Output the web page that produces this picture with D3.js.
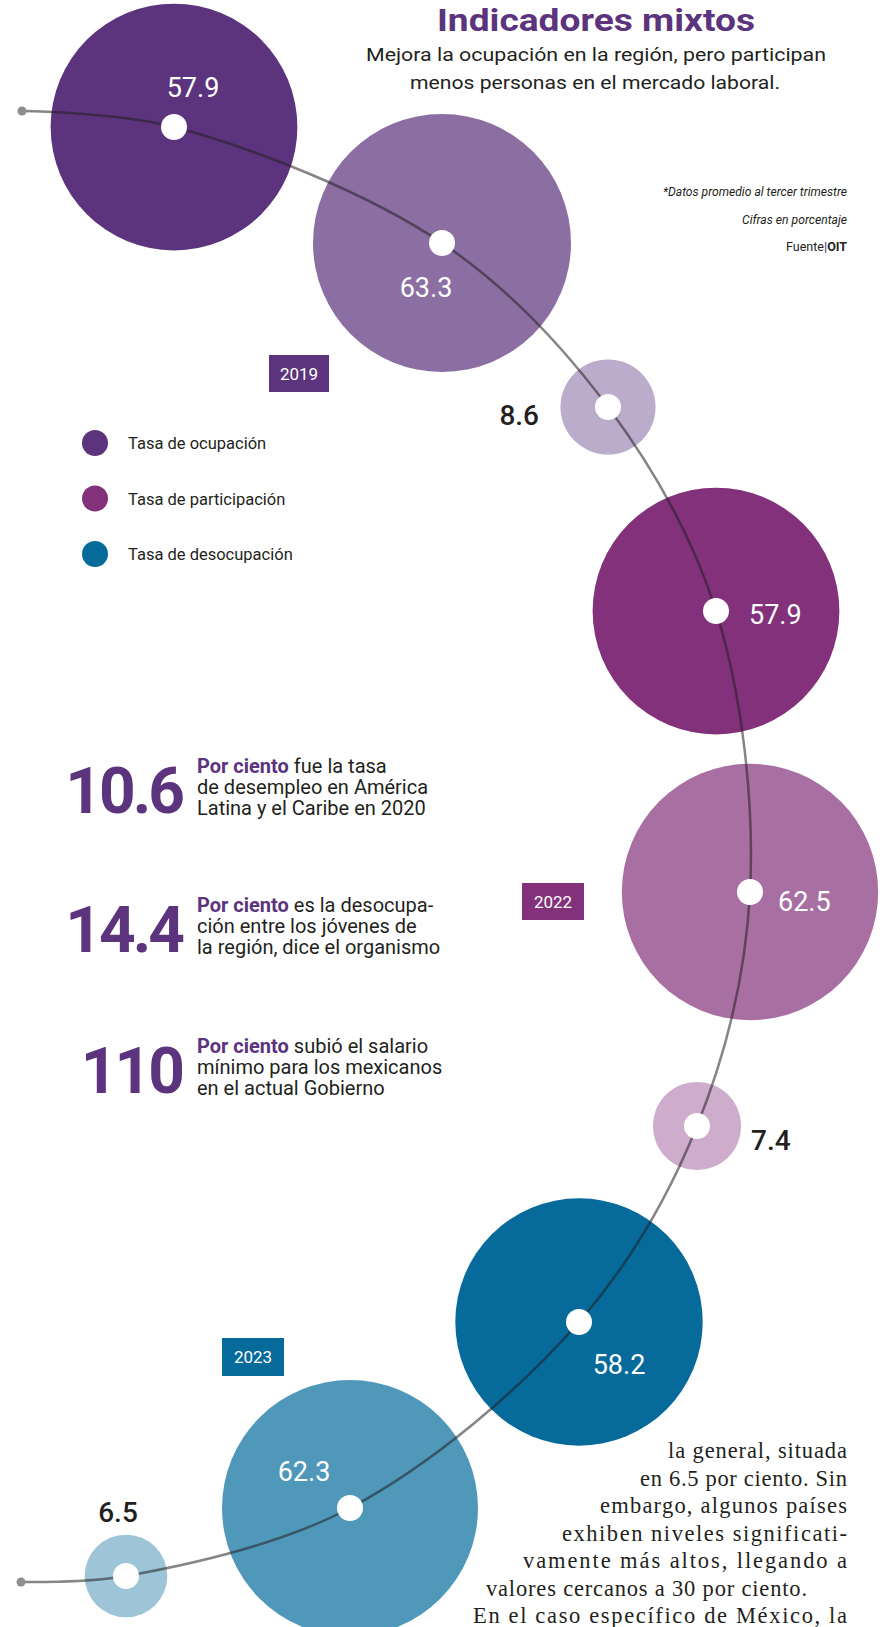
<!DOCTYPE html>
<html lang="es">
<head>
<meta charset="UTF-8">
<title>Indicadores mixtos</title>
<script src="https://d3js.org/d3.v7.min.js"></script>
<style>
  body { margin: 0; padding: 0; background: #fff; }
  svg { display: block; font-family: Roboto, "Liberation Sans", sans-serif; }
</style>
</head>
<body>
<svg id="chart" width="892" height="1627"></svg>
<script>
// ---- data ----
const years = ["2019", "2022", "2023"];
const indicators = ["Tasa de ocupación", "Tasa de participación", "Tasa de desocupación"];
const ocupacion = [57.9, 57.9, 58.2];
const participacion = [63.3, 62.5, 62.3];
const desocupacion = [8.6, 7.4, 6.5];

const factValues = ["10.6", "14.4", "110"];
const factLines = [
  ["fue la tasa", "de desempleo en América", "Latina y el Caribe en 2020"],
  ["es la desocupa-", "ción entre los jóvenes de", "la región, dice el organismo"],
  ["subió el salario", "mínimo para los mexicanos", "en el actual Gobierno"]
];
const notes = ["*Datos promedio al tercer trimestre", "Cifras en porcentaje"];
const bodyLines = [
  "la general, situada",
  "en 6.5 por ciento. Sin",
  "embargo, algunos países",
  "exhiben niveles significati-",
  "vamente más altos, llegando a",
  "valores cercanos a 30 por ciento.",
  "En el caso específico de México, la"
];

// ---- layout / styles ----
const dark = "#231f20";
const yearColor = ["#5c347d", "#82317a", "#066a9b"];
const shades = [
  ["#5c347d", "#8b6fa2", "#bcaccc"],
  ["#82317a", "#a76fa2", "#ceadcc"],
  ["#066a9b", "#5098ba", "#9dc4d7"]
];
// knots of the connecting curve (one per bubble) and its two tails
const knots = [[174,127],[442,243],[608,407],[716,611],[750,892],[697,1126],[579,1322],[350,1508],[126,1576]];
const tails = [[22,111],[21,1582]];
// label offsets from bubble centre: dx, dy, anchor
const labelPos = [
  [19,-30,"middle"],[-16,54,"middle"],[-69,18,"end"],
  [33,13,"start"],[28,19,"start"],[54,24,"start"],
  [40,52,"middle"],[-46,-27,"middle"],[-8,-54,"middle"]
];
const yearBoxes = [[269,355,60,37],[522,883,62,37],[222,1338,62,38]];

const svg = d3.select("#chart");

const points = [];
years.forEach((yr, i) => {
  [ocupacion, participacion, desocupacion].forEach((serie, j) => {
    points.push({ year: yr, yi: i, ind: j, value: serie[i] });
  });
});
points.forEach((d, k) => { d.x = knots[k][0]; d.y = knots[k][1]; d.lab = labelPos[k]; });

const r = d3.scaleSqrt()
  .domain([0, d3.max(points, d => d.value)])
  .range([0, 129]);

// bubbles
svg.append("g").selectAll("circle")
  .data(points)
  .join("circle")
  .attr("cx", d => d.x)
  .attr("cy", d => d.y)
  .attr("r", d => r(d.value))
  .attr("fill", d => shades[d.yi][d.ind]);

// connecting line
const line = d3.line().curve(d3.curveCatmullRom.alpha(0.5));
const linePts = [tails[0], ...points.map(d => [d.x, d.y]), tails[1]];
svg.append("path")
  .attr("d", line(linePts))
  .attr("fill", "none")
  .attr("stroke", dark)
  .attr("stroke-opacity", 0.55)
  .attr("stroke-width", 2.5);

svg.append("g").selectAll("circle")
  .data(tails)
  .join("circle")
  .attr("cx", d => d[0]).attr("cy", d => d[1]).attr("r", 4.5)
  .attr("fill", "#8e8e90");

// white centre dots
svg.append("g").selectAll("circle")
  .data(points)
  .join("circle")
  .attr("cx", d => d.x).attr("cy", d => d.y).attr("r", 13)
  .attr("fill", "#fff");

// value labels
svg.append("g").selectAll("text")
  .data(points)
  .join("text")
  .attr("x", d => d.x + d.lab[0])
  .attr("y", d => d.y + d.lab[1])
  .attr("text-anchor", d => d.lab[2])
  .attr("font-size", d => d.ind === 2 ? 28 : 27)
  .attr("font-weight", d => d.ind === 2 ? 500 : 400)
  .attr("fill", d => d.ind === 2 ? dark : "#fff")
  .text(d => d.value.toFixed(1));

// year boxes
const yb = svg.append("g").selectAll("g")
  .data(years)
  .join("g")
  .attr("transform", (d, i) => `translate(${yearBoxes[i][0]},${yearBoxes[i][1]})`);
yb.append("rect")
  .attr("width", (d, i) => yearBoxes[i][2])
  .attr("height", (d, i) => yearBoxes[i][3])
  .attr("fill", (d, i) => yearColor[i]);
yb.append("text")
  .attr("x", (d, i) => yearBoxes[i][2] / 2)
  .attr("y", (d, i) => yearBoxes[i][3] / 2 + 6)
  .attr("text-anchor", "middle")
  .attr("font-size", 17)
  .attr("fill", "#fff")
  .text(d => d);

// title
svg.append("text")
  .attr("x", 437).attr("y", 31)
  .attr("font-size", 32).attr("font-weight", 700)
  .attr("fill", yearColor[0])
  .attr("textLength", 318).attr("lengthAdjust", "spacingAndGlyphs")
  .text("Indicadores mixtos");
svg.append("text")
  .attr("x", 366).attr("y", 61)
  .attr("font-size", 19).attr("fill", dark)
  .attr("textLength", 460).attr("lengthAdjust", "spacingAndGlyphs")
  .text("Mejora la ocupación en la región, pero participan");
svg.append("text")
  .attr("x", 410).attr("y", 89)
  .attr("font-size", 19).attr("fill", dark)
  .attr("textLength", 370).attr("lengthAdjust", "spacingAndGlyphs")
  .text("menos personas en el mercado laboral.");

// notes
const noteW = [184, 105];
notes.forEach((t, i) => {
  svg.append("text")
    .attr("x", 847 - noteW[i]).attr("y", 196 + i * 28)
    .attr("font-size", 12).attr("font-style", "italic").attr("fill", dark)
    .attr("textLength", noteW[i]).attr("lengthAdjust", "spacingAndGlyphs")
    .text(t);
});
const src = svg.append("text")
  .attr("x", 847).attr("y", 251)
  .attr("text-anchor", "end")
  .attr("font-size", 12.5).attr("fill", dark);
src.append("tspan").text("Fuente");
src.append("tspan").attr("fill", yearColor[0]).attr("font-weight", 700).text("|");
src.append("tspan").attr("font-weight", 700).text("OIT");

// legend
const lg = svg.append("g").selectAll("g")
  .data(indicators)
  .join("g")
  .attr("transform", (d, i) => `translate(95,${443 + i * 55.5})`);
lg.append("circle").attr("r", 13).attr("fill", (d, i) => yearColor[i]);
lg.append("text")
  .attr("x", 33).attr("y", 6)
  .attr("font-size", 16.5).attr("fill", dark)
  .text(d => d);

// facts
const factTop = [773, 912, 1053];
factValues.forEach((v, i) => {
  svg.append("text")
    .attr("x", 182).attr("y", factTop[i] + 40)
    .attr("text-anchor", "end")
    .attr("font-size", 64).attr("font-weight", 700)
    .attr("fill", yearColor[0])
    .attr("letter-spacing", -3)
    .text(v);
  factLines[i].forEach((ln, k) => {
    const t = svg.append("text")
      .attr("x", 197).attr("y", factTop[i] + k * 21)
      .attr("font-size", 20).attr("fill", dark);
    if (k === 0) {
      t.append("tspan").attr("font-weight", 700).attr("fill", yearColor[0]).text("Por ciento ");
    }
    t.append("tspan").text(ln);
  });
});

// body text (serif)
const bodyLeft = [668, 640, 600, 562, 523, 486, 473];
const bodyRight = [847, 847, 847, 847, 847, 807, 847];
bodyLines.forEach((ln, i) => {
  svg.append("text")
    .attr("x", bodyLeft[i]).attr("y", 1458 + i * 27.5)
    .attr("font-family", "'Liberation Serif', 'DejaVu Serif', serif")
    .attr("font-size", 22.5).attr("fill", dark)
    .attr("textLength", bodyRight[i] - bodyLeft[i]).attr("lengthAdjust", "spacing")
    .text(ln);
});
</script>
</body>
</html>
